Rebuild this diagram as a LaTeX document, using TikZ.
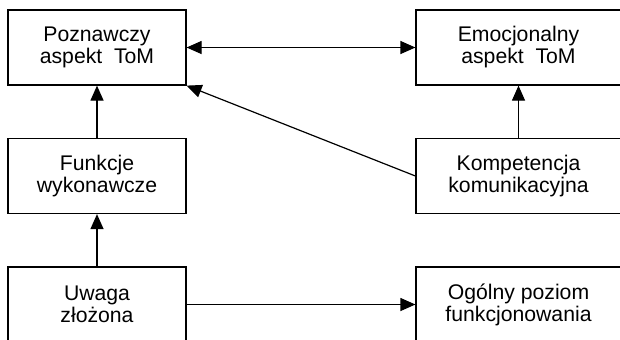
\documentclass[tikz,border=0pt]{standalone}
\usepackage{fontspec}
\setmainfont{Liberation Sans}
\usepackage{tikz}
\usetikzlibrary{arrows.meta, positioning}

\tikzset{
  box/.style={draw, line width=0.6pt, minimum height=37.5pt, align=center, inner sep=0pt, font=\fontsize{10.6}{11}\selectfont},
  leftbox/.style={box, minimum width=89pt},
  rightbox/.style={box, minimum width=102.5pt},
  arr/.style={-{Triangle[length=7.5pt, width=6.5pt]}, line width=0.6pt},
  arrboth/.style={{Triangle[length=7.5pt, width=6.5pt]}-{Triangle[length=7.5pt, width=6.5pt]}, line width=0.6pt}
}

\begin{document}
\begin{tikzpicture}[x=0.5pt, y=-0.5pt]
  \useasboundingbox (0, 0) rectangle (620, 339);

  % Left column
  \node[leftbox] (poz) at (97, 47.5) {Poznawczy\\aspekt~~ToM};
  \node[leftbox] (fun) at (97, 176) {Funkcje\\wykonawcze};
  \node[leftbox] (uwa) at (97, 304.5) {Uwaga\\złożona};

  % Right column
  \node[rightbox] (emo) at (518.5, 47.5) {Emocjonalny\\aspekt~~ToM};
  \node[rightbox] (kom) at (518.5, 176) {Kompetencja\\komunikacyjna};
  \node[rightbox] (ogo) at (518.5, 304.5) {Ogólny poziom\\funkcjonowania};

  % Connectors
  \draw[arrboth] (poz) -- (emo);
  \draw[arr] (fun) -- (poz);
  \draw[arr] (uwa) -- (fun);
  \draw[arr] (kom) -- (emo);
  \draw[arr] (kom.west) -- (poz.south east);
  \draw[arr] (uwa) -- (ogo);
\end{tikzpicture}
\end{document}
